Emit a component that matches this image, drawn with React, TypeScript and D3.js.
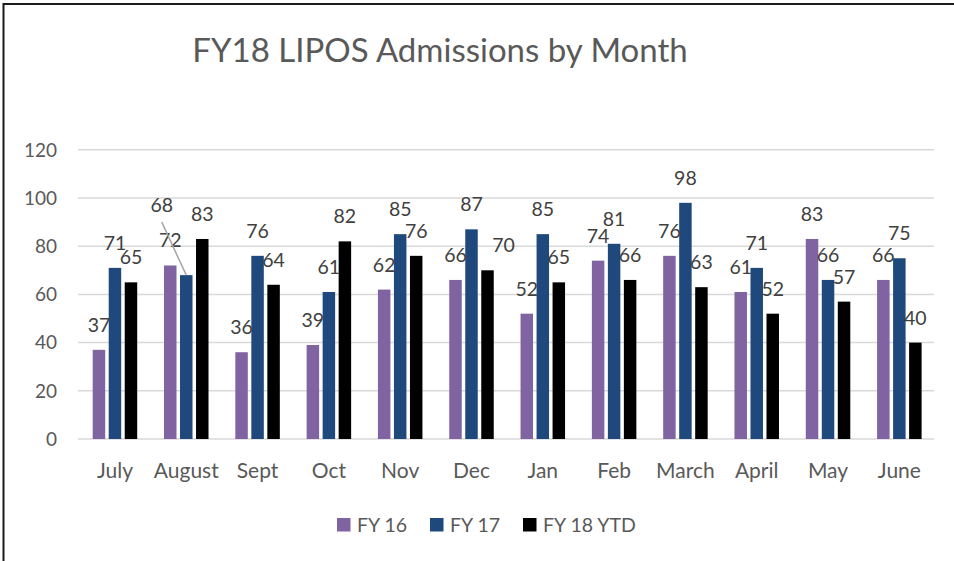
import React from "react";
import * as d3 from "d3";

const months = ["July", "August", "Sept", "Oct", "Nov", "Dec", "Jan", "Feb", "March", "April", "May", "June"];
const seriesNames = ["FY 16", "FY 17", "FY 18 YTD"];
const fy16 = [37, 72, 36, 39, 62, 66, 52, 74, 76, 61, 83, 66];
const fy17 = [71, 68, 76, 61, 85, 87, 85, 81, 98, 71, 66, 75];
const fy18 = [65, 83, 64, 82, 76, 70, 65, 66, 63, 52, 57, 40];
const yTicks = [0, 20, 40, 60, 80, 100, 120];
const title = "FY18 LIPOS Admissions by Month";

const colors = ["#8064a2", "#1f497d", "#000000"];
// label nudges (layout, not data): [seriesIndex, monthIndex, dx, dy, leader]
const labelNudges: [number, number, number, number, boolean][] = [
  [1, 1, -24.5, -45, true],
  [2, 5, 16, 0, false],
];

const W = 954;
const H = 561;
const FONT = "Lato, 'Open Sans', sans-serif";
const TEXT = "#595959";

export default function App() {
  const values = [fy16, fy17, fy18];
  const x0 = d3.scaleBand<string>().domain(months).range([79.3, 935]).padding(0);
  const x1 = d3.scaleBand<string>().domain(seriesNames).range([0, 44.5]).paddingInner(0.22).paddingOuter(0);
  const y = d3.scaleLinear().domain([0, 120]).range([439, 149.8]);
  const groupOffset = (x0.bandwidth() - 44.5) / 2;

  const nudge = (s: number, m: number) => labelNudges.find((n) => n[0] === s && n[1] === m);

  return (
    <svg width={W} height={H} style={{ position: "fixed", left: 0, top: 0, display: "block", background: "#fff" }}>
      <rect x={0} y={0} width={W} height={H} fill="#fff" />
      <line x1={3} y1={4} x2={W} y2={4} stroke="#1a1a1a" strokeWidth={2} />
      <line x1={3.5} y1={3} x2={3.5} y2={H} stroke="#1a1a1a" strokeWidth={2} />

      <text x={440} y={62} textAnchor="middle" fontFamily={FONT} fontSize={33} fill={TEXT}>
        {title}
      </text>

      {yTicks.map((t) => (
        <g key={t}>
          <line x1={78} x2={934} y1={y(t)} y2={y(t)} stroke="#d9d9d9" strokeWidth={1.5} />
          <text x={57} y={y(t)} dy="0.36em" textAnchor="end" fontFamily={FONT} fontSize={19} fill={TEXT}>
            {t}
          </text>
        </g>
      ))}

      {months.map((m, mi) => (
        <g key={m}>
          {values.map((vals, si) => {
            const bx = (x0(m) as number) + groupOffset + (x1(seriesNames[si]) as number);
            const v = vals[mi];
            return (
              <rect key={si} x={bx} y={y(v)} width={x1.bandwidth()} height={y(0) - y(v)} fill={colors[si]} />
            );
          })}
          <text
            x={(x0(m) as number) + x0.bandwidth() / 2}
            y={478}
            textAnchor="middle"
            fontFamily={FONT}
            fontSize={21}
            fill={TEXT}
          >
            {m}
          </text>
        </g>
      ))}

      {months.map((m, mi) =>
        values.map((vals, si) => {
          const cx = (x0(m) as number) + groupOffset + (x1(seriesNames[si]) as number) + x1.bandwidth() / 2;
          const v = vals[mi];
          const n = nudge(si, mi);
          const dx = n ? n[2] : 0;
          const dy = n ? n[3] : 0;
          const lx = cx + dx;
          const ly = y(v) - 18 + dy;
          return (
            <g key={`l${mi}-${si}`}>
              {n && n[4] ? (
                <line x1={lx} y1={ly + 10} x2={cx} y2={y(v)} stroke="#a6a6a6" strokeWidth={1.5} />
              ) : null}
              <text x={lx} y={ly} textAnchor="middle" fontFamily={FONT} fontSize={19.5} fill="#404040">
                {v}
              </text>
            </g>
          );
        })
      )}

      {(() => {
        const legendX = [337, 430, 523];
        return seriesNames.map((s, i) => (
          <g key={s}>
            <rect x={legendX[i]} y={518} width={13.5} height={13.5} fill={colors[i]} />
            <text x={legendX[i] + 20} y={524.5} dy="0.36em" fontFamily={FONT} fontSize={19.5} fill={TEXT}>
              {s}
            </text>
          </g>
        ));
      })()}
    </svg>
  );
}
